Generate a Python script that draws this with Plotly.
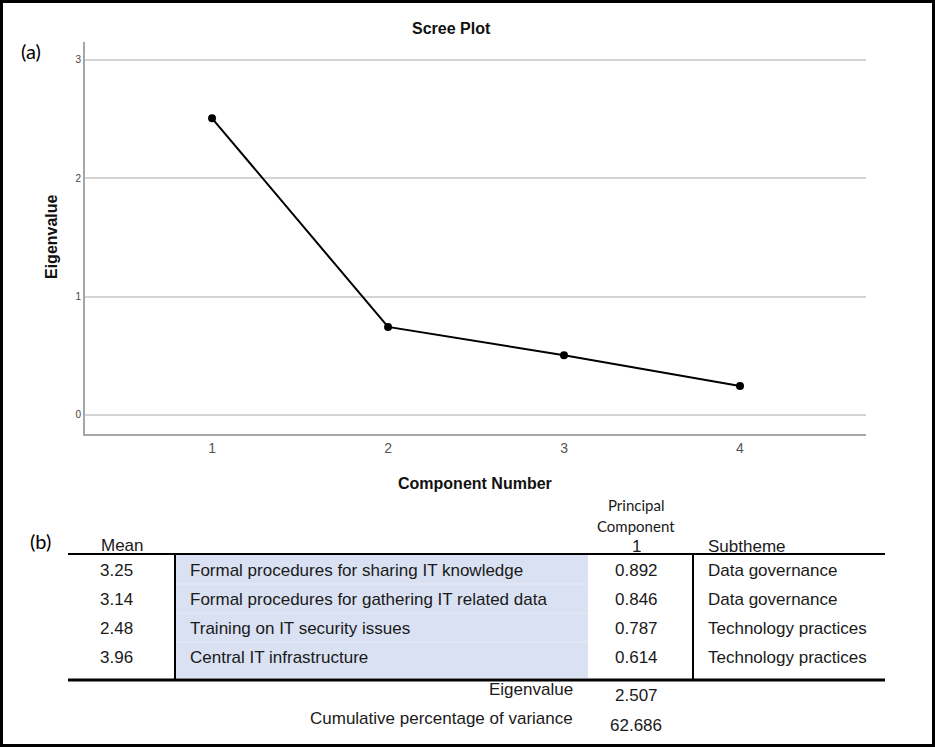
import plotly.graph_objects as go

# ---- data ----
components = [1, 2, 3, 4]
eigenvalues = [2.507, 0.744, 0.505, 0.244]
y_ticks = [0, 1, 2, 3]

means = ["3.25", "3.14", "2.48", "3.96"]
items = [
    "Formal procedures for sharing IT knowledge",
    "Formal procedures for gathering IT related data",
    "Training on IT security issues",
    "Central IT infrastructure",
]
loadings = ["0.892", "0.846", "0.787", "0.614"]
subthemes = ["Data governance", "Data governance", "Technology practices", "Technology practices"]
eigen_total = "2.507"
cum_variance = "62.686"

W, H = 935, 747


def X(px):
    return px / W


def Y(py):
    return 1 - py / H


fig = go.Figure()
fig.add_trace(go.Scatter(
    x=components, y=eigenvalues, mode="lines+markers",
    line=dict(color="black", width=2),
    marker=dict(color="black", size=8),
    showlegend=False, hoverinfo="skip",
))

fig.update_layout(
    width=W, height=H,
    margin=dict(l=0, r=0, t=0, b=0),
    paper_bgcolor="white", plot_bgcolor="white",
    font=dict(family="Liberation Sans, Arial, sans-serif", color="#1a1a1a"),
    xaxis=dict(
        domain=[X(85), X(866)], range=[0.278, 4.716],
        tickvals=components, ticktext=[str(c) for c in components],
        tickfont=dict(size=14, color="#555555"),
        showgrid=False, zeroline=False,
        showline=True, linecolor="#a6a6a6", linewidth=2,
        ticks="", ticklen=0,
        anchor="y",
    ),
    yaxis=dict(
        domain=[Y(434), Y(42)], range=[-0.161, 3.152],
        tickvals=y_ticks, ticktext=[str(v) for v in y_ticks],
        tickfont=dict(size=10, color="#444444"),
        showgrid=True, gridcolor="#d4d4d4", gridwidth=1.5,
        zeroline=False,
        showline=True, linecolor="#a6a6a6", linewidth=2,
        ticks="", ticklen=0,
        anchor="x",
    ),
)

ann = []


def txt(s, px, py, size=17, xanchor="center", bold=False, family=None, color="#1a1a1a", angle=0):
    d = dict(
        text=("<b>%s</b>" % s) if bold else s,
        x=X(px), y=Y(py), xref="paper", yref="paper",
        xanchor=xanchor, yanchor="middle", showarrow=False,
        font=dict(size=size, color=color), textangle=angle,
    )
    if family:
        d["font"]["family"] = family
    ann.append(d)


# scree plot texts
txt("Scree Plot", 451, 28, size=16, bold=True, color="#111111")
txt("Eigenvalue", 52, 237, size=16, bold=True, color="#111111", angle=-90)
txt("Component Number", 475, 483, size=16, bold=True, color="#111111")
txt("(a)", 31, 51, size=20, family="Lato, Carlito, sans-serif", color="#000000")
txt("(b)", 40, 541, size=20, family="Lato, Carlito, sans-serif", color="#000000")

# table header
txt("Mean", 122, 545)
calib = "Lato, Carlito, sans-serif"
txt("Principal", 636, 505, size=15, family=calib)
txt("Component", 636, 526, size=15, family=calib)
txt("1", 636, 546)
txt("Subtheme", 706, 546, xanchor="left")

row_y = [570, 599, 628, 657]
for i in range(len(items)):
    txt(means[i], 117, row_y[i])
    txt(items[i], 188, row_y[i], xanchor="left")
    txt(loadings[i], 636, row_y[i])
    txt(subthemes[i], 706, row_y[i], xanchor="left")

txt("Eigenvalue", 575, 689, xanchor="right")
txt(eigen_total, 636, 695)
txt("Cumulative percentage of variance", 575, 718, xanchor="right")
txt(cum_variance, 636, 725)

shapes = []


def line(x0, y0, x1, y1, w=2, color="black"):
    shapes.append(dict(type="line", xref="paper", yref="paper",
                       x0=X(x0), y0=Y(y0), x1=X(x1), y1=Y(y1),
                       line=dict(color=color, width=w)))


# blue shaded item column
shapes.append(dict(type="rect", xref="paper", yref="paper",
                   x0=X(175), x1=X(588), y0=Y(678), y1=Y(555),
                   fillcolor="#d9e1f2", line=dict(width=0), layer="below"))
for yb in [584, 613, 642]:
    line(176, yb, 588, yb, w=1, color="#e6ebf6")
line(68, 554, 885, 554, w=2)
line(175, 555, 175, 679, w=2)
line(693, 555, 693, 679, w=2)
line(68, 680, 885, 680, w=3)

# outer border
shapes.append(dict(type="rect", xref="paper", yref="paper",
                   x0=X(1.5), x1=X(933.5), y0=Y(745.5), y1=Y(1.5),
                   line=dict(color="black", width=3), fillcolor="rgba(0,0,0,0)"))

fig.update_layout(annotations=ann, shapes=shapes)
fig.write_html(
    "out.html",
    config={"displayModeBar": False},
    post_script="document.body.style.margin='0px';document.body.style.overflow='hidden';",
)
